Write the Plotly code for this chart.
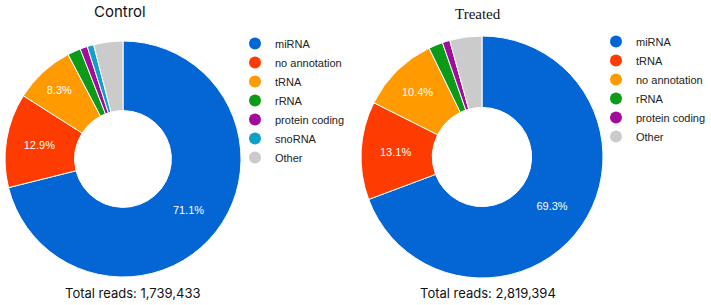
import plotly.graph_objects as go

# ---- data ----
control_labels = ["miRNA", "no annotation", "tRNA", "rRNA", "protein coding", "snoRNA", "Other"]
control_values = [71.1, 12.9, 8.3, 1.8, 1.0, 0.9, 4.0]
treated_labels = ["miRNA", "tRNA", "no annotation", "rRNA", "protein coding", "Other"]
treated_values = [69.3, 13.1, 10.4, 1.9, 1.0, 4.3]
control_total = "1,739,433"
treated_total = "2,819,394"

control_colors = ["#0466d4", "#fe3b00", "#ff9a00", "#0c9b18", "#a10c9b", "#0fa0c7", "#cbcbcb"]
treated_colors = ["#0466d4", "#fe3b00", "#ff9a00", "#0c9b18", "#a10c9b", "#cbcbcb"]

def tmpl(values, thr=5):
    return ["%{percent:.1%}" if v >= thr else "" for v in values]

W, H = 711, 305

fig = go.Figure()

fig.add_trace(go.Pie(
    labels=control_labels, values=control_values, sort=False, direction="clockwise",
    rotation=0, hole=0.41, marker=dict(colors=control_colors, line=dict(color="white", width=1)),
    texttemplate=tmpl(control_values), textposition="inside", insidetextorientation="horizontal",
    textfont=dict(family="Liberation Sans, Arial", size=11, color="white"),
    showlegend=False, hoverinfo="label+percent",
    domain=dict(x=[5 / W, 241 / W], y=[(H - 277) / H, (H - 41) / H]),
))
fig.add_trace(go.Pie(
    labels=treated_labels, values=treated_values, sort=False, direction="clockwise",
    rotation=0, hole=0.41, marker=dict(colors=treated_colors, line=dict(color="white", width=1)),
    texttemplate=tmpl(treated_values), textposition="inside", insidetextorientation="horizontal",
    textfont=dict(family="Liberation Sans, Arial", size=11, color="white"),
    showlegend=False, hoverinfo="label+percent",
    domain=dict(x=[361 / W, 603 / W], y=[(H - 278) / H, (H - 36) / H]),
))

# legend entries (circle markers)
for lab, col in zip(control_labels, control_colors):
    fig.add_trace(go.Scatter(x=[None], y=[None], mode="markers", name=lab,
                             marker=dict(color=col, size=12, symbol="circle"),
                             legend="legend", showlegend=True, hoverinfo="skip"))
for lab, col in zip(treated_labels, treated_colors):
    fig.add_trace(go.Scatter(x=[None], y=[None], mode="markers", name=lab,
                             marker=dict(color=col, size=12, symbol="circle"),
                             legend="legend2", showlegend=True, hoverinfo="skip"))

legend_common = dict(font=dict(family="Liberation Sans, Arial", size=11, color="#222222"),
                     bgcolor="rgba(0,0,0,0)", borderwidth=0, tracegroupgap=0,
                     itemclick=False, itemdoubleclick=False, xanchor="left", yanchor="top",
                     traceorder="normal")

fig.update_layout(
    width=W, height=H,
    margin=dict(l=0, r=0, t=0, b=0, autoexpand=False),
    paper_bgcolor="white", plot_bgcolor="white",
    xaxis=dict(visible=False, range=[0, 1]), yaxis=dict(visible=False, range=[0, 1]),
    legend=dict(x=235 / W, y=(H - 29) / H, **legend_common),
    legend2=dict(x=596 / W, y=(H - 27) / H, **legend_common),
    annotations=[
        dict(text="Control", x=120 / W, y=(H - 12) / H, xref="paper", yref="paper",
             showarrow=False, xanchor="center", yanchor="middle",
             font=dict(family="Inter, Liberation Sans", size=15, color="#111111")),
        dict(text="Treated", x=478 / W, y=(H - 14) / H, xref="paper", yref="paper",
             showarrow=False, xanchor="center", yanchor="middle",
             font=dict(family="Liberation Serif, Times New Roman", size=15, color="#111111")),
        dict(text="Total reads: " + control_total, x=132 / W, y=(H - 293) / H, xref="paper", yref="paper",
             showarrow=False, xanchor="center", yanchor="middle",
             font=dict(family="Inter, Liberation Sans", size=13, color="#111111")),
        dict(text="Total reads: " + treated_total, x=488 / W, y=(H - 293) / H, xref="paper", yref="paper",
             showarrow=False, xanchor="center", yanchor="middle",
             font=dict(family="Inter, Liberation Sans", size=13, color="#111111")),
    ],
)

fig.write_html("out.html")
